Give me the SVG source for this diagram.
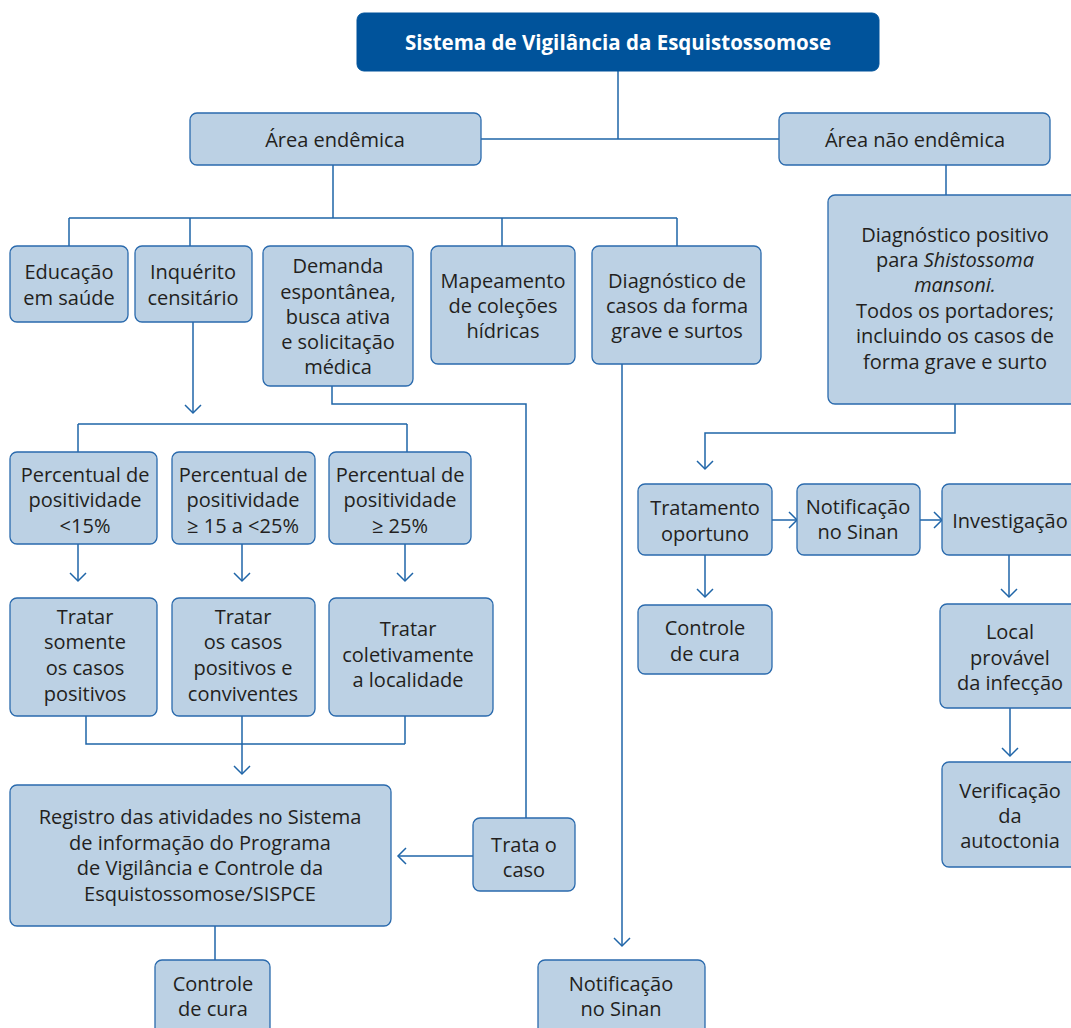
<svg xmlns="http://www.w3.org/2000/svg" width="1071" height="1028" viewBox="0 0 1071 1028">
<style>
.box{fill:#bcd1e4;stroke:#2a6aad;stroke-width:1.3}
.top{fill:#00539b;stroke:#00539b}
.t{font-family:"Open Sans","Noto Sans",sans-serif;font-size:20px;fill:#231f20;text-anchor:middle}
.tw{font-family:"Open Sans","Noto Sans",sans-serif;font-size:20.5px;font-weight:bold;fill:#ffffff;text-anchor:middle}
.c{fill:none;stroke:#1f65a8;stroke-width:1.5}
.a{marker-end:url(#arr)}
</style>
<defs>
<marker id="arr" viewBox="-10 -10 12 20" markerWidth="12" markerHeight="20" refX="0" refY="0" orient="auto" markerUnits="userSpaceOnUse">
<path d="M-8,-8 L0,0 L-8,8" fill="none" stroke="#1f65a8" stroke-width="1.5"/>
</marker>
</defs>
<g id="connectors">
<path class="c" d="M618,71 V139 M481,139 H779"/>
<path class="c" d="M333,165 V218 M69,218 H677 M69,218 V246 M190,218 V246 M502,218 V246 M677,218 V246"/>
<path class="c" d="M946,165 V195"/>
<path class="c a" d="M193,322 V413"/>
<path class="c" d="M78,424 H407 M78,424 V452 M407,424 V452"/>
<path class="c a" d="M78,544 V581"/>
<path class="c a" d="M242,544 V581"/>
<path class="c a" d="M405,544 V581"/>
<path class="c" d="M86,716 V744 H405 M242,716 V744 M405,716 V744"/>
<path class="c a" d="M242,744 V774"/>
<path class="c" d="M215,926 V960"/>
<path class="c" d="M332,386 V404 H526 V818"/>
<path class="c a" d="M473,856 H398"/>
<path class="c a" d="M622,364 V946"/>
<path class="c a" d="M955,404 V433 H705 V469"/>
<path class="c a" d="M772,520 H797"/>
<path class="c a" d="M920,520 H942"/>
<path class="c a" d="M705,555 V597"/>
<path class="c a" d="M1009,555 V597"/>
<path class="c a" d="M1010,708 V756"/>
</g>
<g id="n-sistema"><rect class="top" x="357" y="13" width="522" height="58" rx="7"/><text class="tw" x="618" y="50">Sistema de Vigilância da Esquistossomose</text></g>
<g id="n-endemica"><rect class="box" x="190" y="113" width="291" height="52" rx="7"/><text class="t" x="335" y="147">Área endêmica</text></g>
<g id="n-naoendemica"><rect class="box" x="779" y="113" width="271" height="52" rx="7"/><text class="t" x="915" y="147">Área não endêmica</text></g>
<g id="n-educacao"><rect class="box" x="10" y="246" width="118" height="76" rx="7"/><text class="t" x="69" y="279">Educação</text><text class="t" x="69" y="305">em saúde</text></g>
<g id="n-inquerito"><rect class="box" x="135" y="246" width="117" height="76" rx="7"/><text class="t" x="193" y="279">Inquérito</text><text class="t" x="193" y="305">censitário</text></g>
<g id="n-demanda"><rect class="box" x="263" y="246" width="150" height="140" rx="7"/><text class="t" x="338" y="273">Demanda</text><text class="t" x="338" y="299">espontânea,</text><text class="t" x="338" y="324">busca ativa</text><text class="t" x="338" y="349">e solicitação</text><text class="t" x="338" y="374">médica</text></g>
<g id="n-mapeamento"><rect class="box" x="431" y="246" width="144" height="118" rx="7"/><text class="t" x="503" y="288">Mapeamento</text><text class="t" x="503" y="313">de coleções</text><text class="t" x="503" y="338">hídricas</text></g>
<g id="n-diagnostico"><rect class="box" x="592" y="246" width="169" height="118" rx="7"/><text class="t" x="677" y="288">Diagnóstico de</text><text class="t" x="677" y="313">casos da forma</text><text class="t" x="677" y="338">grave e surtos</text></g>
<g id="n-diagpositivo"><rect class="box" x="828" y="195" width="255" height="209" rx="7"/><text class="t" x="955" y="242">Diagnóstico positivo</text><text class="t" x="955" y="267">para <tspan font-style="italic">Shistossoma</tspan></text><text class="t" x="955" y="292" font-style="italic">mansoni.</text><text class="t" x="955" y="318">Todos os portadores;</text><text class="t" x="955" y="343">incluindo os casos de</text><text class="t" x="955" y="369">forma grave e surto</text></g>
<g id="n-perc1"><rect class="box" x="10" y="452" width="147" height="92" rx="7"/><text class="t" x="85" y="482">Percentual de</text><text class="t" x="85" y="507">positividade</text><text class="t" x="85" y="533">&lt;15%</text></g>
<g id="n-perc2"><rect class="box" x="172" y="452" width="143" height="92" rx="7"/><text class="t" x="243" y="482">Percentual de</text><text class="t" x="243" y="507">positividade</text><text class="t" x="243" y="533">≥ 15 a &lt;25%</text></g>
<g id="n-perc3"><rect class="box" x="329" y="452" width="142" height="92" rx="7"/><text class="t" x="400" y="482">Percentual de</text><text class="t" x="400" y="507">positividade</text><text class="t" x="400" y="533">≥ 25%</text></g>
<g id="n-tratar1"><rect class="box" x="10" y="598" width="147" height="118" rx="7"/><text class="t" x="85" y="624">Tratar</text><text class="t" x="85" y="649">somente</text><text class="t" x="85" y="675">os casos</text><text class="t" x="85" y="701">positivos</text></g>
<g id="n-tratar2"><rect class="box" x="172" y="598" width="143" height="118" rx="7"/><text class="t" x="243" y="624">Tratar</text><text class="t" x="243" y="649">os casos</text><text class="t" x="243" y="675">positivos e</text><text class="t" x="243" y="701">conviventes</text></g>
<g id="n-tratar3"><rect class="box" x="329" y="598" width="164" height="118" rx="7"/><text class="t" x="408" y="636">Tratar</text><text class="t" x="408" y="662">coletivamente</text><text class="t" x="408" y="687">a localidade</text></g>
<g id="n-registro"><rect class="box" x="10" y="785" width="381" height="141" rx="7"/><text class="t" x="200" y="824">Registro das atividades no Sistema</text><text class="t" x="200" y="850">de informação do Programa</text><text class="t" x="200" y="875">de Vigilância e Controle da</text><text class="t" x="200" y="901">Esquistossomose/SISPCE</text></g>
<g id="n-tratacaso"><rect class="box" x="473" y="818" width="102" height="73" rx="7"/><text class="t" x="524" y="852">Trata o</text><text class="t" x="524" y="877">caso</text></g>
<g id="n-controle1"><rect class="box" x="155" y="960" width="115" height="80" rx="7"/><text class="t" x="213" y="991">Controle</text><text class="t" x="213" y="1016">de cura</text></g>
<g id="n-notif1"><rect class="box" x="538" y="960" width="167" height="80" rx="7"/><text class="t" x="621" y="991">Notificação</text><text class="t" x="621" y="1016">no Sinan</text></g>
<g id="n-tratamento"><rect class="box" x="638" y="484" width="134" height="71" rx="7"/><text class="t" x="705" y="515">Tratamento</text><text class="t" x="705" y="541">oportuno</text></g>
<g id="n-notif2"><rect class="box" x="797" y="484" width="123" height="71" rx="7"/><text class="t" x="858" y="514">Notificação</text><text class="t" x="858" y="539">no Sinan</text></g>
<g id="n-investigacao"><rect class="box" x="942" y="484" width="140" height="71" rx="7"/><text class="t" x="1010" y="528">Investigação</text></g>
<g id="n-controle2"><rect class="box" x="638" y="605" width="134" height="69" rx="7"/><text class="t" x="705" y="635">Controle</text><text class="t" x="705" y="661">de cura</text></g>
<g id="n-local"><rect class="box" x="940" y="604" width="140" height="104" rx="7"/><text class="t" x="1010" y="639">Local</text><text class="t" x="1010" y="665">provável</text><text class="t" x="1010" y="690">da infecção</text></g>
<g id="n-verificacao"><rect class="box" x="942" y="762" width="140" height="105" rx="7"/><text class="t" x="1010" y="798">Verificação</text><text class="t" x="1010" y="823">da</text><text class="t" x="1010" y="848">autoctonia</text></g>
</svg>
